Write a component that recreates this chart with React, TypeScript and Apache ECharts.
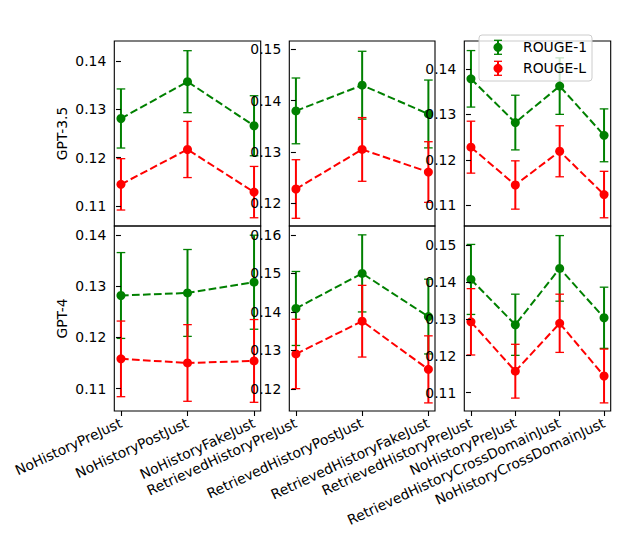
import React, { useEffect, useRef } from "react";
import * as echarts from "echarts";

// ---- data ----
const catsNoHistory = ["NoHistoryPreJust", "NoHistoryPostJust", "NoHistoryFakeJust"];
const catsRetrieved = ["RetrievedHistoryPreJust", "RetrievedHistoryPostJust", "RetrievedHistoryFakeJust"];
const catsCross = ["RetrievedHistoryPreJust", "NoHistoryPreJust", "RetrievedHistoryCrossDomainJust", "NoHistoryCrossDomainJust"];

// GPT-3.5
const g35_c1_r1 = [0.1281, 0.1357, 0.1266];
const g35_c1_r1_err = [0.0061, 0.0064, 0.0062];
const g35_c1_rl = [0.1145, 0.1217, 0.1129];
const g35_c1_rl_err = [0.0053, 0.0058, 0.0053];
const g35_c2_r1 = [0.138, 0.143, 0.1374];
const g35_c2_r1_err = [0.0064, 0.0066, 0.0066];
const g35_c2_rl = [0.1228, 0.1305, 0.1261];
const g35_c2_rl_err = [0.0057, 0.0062, 0.0059];
const g35_c3_r1 = [0.1378, 0.1282, 0.1362, 0.1254];
const g35_c3_r1_err = [0.0062, 0.006, 0.0062, 0.0058];
const g35_c3_rl = [0.1228, 0.1145, 0.1219, 0.1124];
const g35_c3_rl_err = [0.0057, 0.0053, 0.0056, 0.0051];

// GPT-4
const g4_c1_r1 = [0.1282, 0.1287, 0.1308];
const g4_c1_r1_err = [0.0084, 0.0085, 0.0092];
const g4_c1_rl = [0.1158, 0.115, 0.1154];
const g4_c1_rl_err = [0.0074, 0.0075, 0.0081];
const g4_c2_r1 = [0.1409, 0.15, 0.1388];
const g4_c2_r1_err = [0.0096, 0.01, 0.0097];
const g4_c2_rl = [0.1291, 0.1376, 0.1251];
const g4_c2_rl_err = [0.009, 0.0093, 0.0087];
const g4_c3_r1 = [0.1407, 0.1284, 0.1437, 0.1303];
const g4_c3_r1_err = [0.0095, 0.0083, 0.0089, 0.0083];
const g4_c3_rl = [0.1292, 0.1158, 0.1288, 0.1145];
const g4_c3_rl_err = [0.009, 0.0073, 0.0079, 0.0073];

// y tick labels per panel
const ticksR1C1 = [0.11, 0.12, 0.13, 0.14];
const ticksR1C2 = [0.12, 0.13, 0.14, 0.15];
const ticksR1C3 = [0.11, 0.12, 0.13, 0.14];
const ticksR2C1 = [0.11, 0.12, 0.13, 0.14];
const ticksR2C2 = [0.12, 0.13, 0.14, 0.15, 0.16];
const ticksR2C3 = [0.11, 0.12, 0.13, 0.14, 0.15];

const rowNames = ["GPT-3.5", "GPT-4"];
const seriesNames = ["ROUGE-1", "ROUGE-L"];

const GREEN = "#008000";
const RED = "#ff0000";
const FONT = "DejaVu Sans";
const FS = 13.9;

export default function App() {
  const ref = useRef<HTMLDivElement>(null);

  useEffect(() => {
    if (!ref.current) return;
    const chart = echarts.init(ref.current, null, { renderer: "svg" });

    const colLeft = [114.3, 289.3, 464.3];
    const colWidth = [146.4, 145.7, 146.4];
    const rowTop = [41, 226];
    const rowHeight = 185;

    const colCats = [catsNoHistory, catsRetrieved, catsCross];
    const panels = [
      { row: 0, col: 0, r1: g35_c1_r1, r1e: g35_c1_r1_err, rl: g35_c1_rl, rle: g35_c1_rl_err, ticks: ticksR1C1, min: 0.1059, max: 0.1441 },
      { row: 0, col: 1, r1: g35_c2_r1, r1e: g35_c2_r1_err, rl: g35_c2_rl, rle: g35_c2_rl_err, ticks: ticksR1C2, min: 0.1156, max: 0.1516 },
      { row: 0, col: 2, r1: g35_c3_r1, r1e: g35_c3_r1_err, rl: g35_c3_rl, rle: g35_c3_rl_err, ticks: ticksR1C3, min: 0.1055, max: 0.1461 },
      { row: 1, col: 0, r1: g4_c1_r1, r1e: g4_c1_r1_err, rl: g4_c1_rl, rle: g4_c1_rl_err, ticks: ticksR2C1, min: 0.1056, max: 0.1418 },
      { row: 1, col: 1, r1: g4_c2_r1, r1e: g4_c2_r1_err, rl: g4_c2_rl, rle: g4_c2_rl_err, ticks: ticksR2C2, min: 0.1143, max: 0.1623 },
      { row: 1, col: 2, r1: g4_c3_r1, r1e: g4_c3_r1_err, rl: g4_c3_rl, rle: g4_c3_rl_err, ticks: ticksR2C3, min: 0.105, max: 0.1552 },
    ];

    const grids: any[] = [];
    const xAxes: any[] = [];
    const yAxes: any[] = [];
    const series: any[] = [];

    const errRender = (color: string) => (params: any, api: any) => {
      const x = api.value(0);
      const y = api.value(1);
      const e = api.value(2);
      const top = api.coord([x, y + e]);
      const bot = api.coord([x, y - e]);
      const cw = 4.3;
      return {
        type: "group",
        children: [
          { type: "line", shape: { x1: top[0], y1: top[1], x2: bot[0], y2: bot[1] }, style: { stroke: color, lineWidth: 2 } },
          { type: "line", shape: { x1: top[0] - cw, y1: top[1], x2: top[0] + cw, y2: top[1] }, style: { stroke: color, lineWidth: 1.3 } },
          { type: "line", shape: { x1: bot[0] - cw, y1: bot[1], x2: bot[0] + cw, y2: bot[1] }, style: { stroke: color, lineWidth: 1.3 } },
        ],
      };
    };

    panels.forEach((p, i) => {
      const cats = colCats[p.col];
      const n = cats.length;
      const pad = (n - 1) * 0.05;
      grids.push({
        left: colLeft[p.col],
        top: rowTop[p.row],
        width: colWidth[p.col],
        height: rowHeight,
        show: true,
        borderColor: "#000",
        borderWidth: 1.1,
        backgroundColor: "transparent",
      });
      const idx = cats.map((_, k) => k);
      xAxes.push({
        type: "value",
        gridIndex: i,
        min: -pad,
        max: n - 1 + pad,
        splitLine: { show: false },
        axisLine: { show: false },
        axisTick: {
          show: p.row === 1,
          customValues: idx,
          length: 5,
          lineStyle: { color: "#000", width: 1.1 },
        },
        axisLabel: {
          show: p.row === 1,
          customValues: idx,
          rotate: 25,
          margin: 11,
          fontSize: FS,
          fontFamily: FONT,
          color: "#000",
          formatter: (v: number) => cats[Math.round(v)] ?? "",
        },
        z: 6,
      });
      yAxes.push({
        type: "value",
        gridIndex: i,
        min: p.min,
        max: p.max,
        splitLine: { show: false },
        axisLine: { show: false },
        axisTick: {
          show: true,
          customValues: p.ticks,
          length: 5,
          lineStyle: { color: "#000", width: 1.1 },
        },
        axisLabel: {
          customValues: p.ticks,
          margin: 8,
          fontSize: FS,
          fontFamily: FONT,
          color: "#000",
          formatter: (v: number) => v.toFixed(2),
        },
        name: p.col === 0 ? rowNames[p.row] : "",
        nameLocation: "middle",
        nameGap: 45,
        nameTextStyle: { fontSize: FS, fontFamily: FONT, color: "#000" },
        z: 6 + p.col,
      });
      const mk = (vals: number[]) => vals.map((v, k) => [k, v]);
      const mkErr = (vals: number[], errs: number[]) => vals.map((v, k) => [k, v, errs[k]]);
      [
        { name: seriesNames[0], vals: p.r1, errs: p.r1e, color: GREEN, z: 2 },
        { name: seriesNames[1], vals: p.rl, errs: p.rle, color: RED, z: 4 },
      ].forEach((s) => {
        series.push({
          type: "custom",
          name: s.name + "-err",
          xAxisIndex: i,
          yAxisIndex: i,
          data: mkErr(s.vals, s.errs),
          encode: { x: 0, y: 1 },
          renderItem: errRender(s.color),
          clip: true,
          silent: true,
          z: s.z,
        });
        series.push({
          type: "line",
          name: s.name,
          xAxisIndex: i,
          yAxisIndex: i,
          data: mk(s.vals),
          symbol: "circle",
          symbolSize: 9,
          showSymbol: true,
          itemStyle: { color: s.color },
          lineStyle: { color: s.color, width: 2, type: [7.7, 3.3] },
          clip: true,
          silent: true,
          z: s.z + 1,
        });
      });
    });

    // legend drawn with graphic
    const lx = 479, ly = 35, lw = 113, lh = 46;
    const Z = 100;
    const legendItem = (cy: number, color: string, label: string) => [
      { type: "line", z: Z + 1, shape: { x1: 498, y1: cy - 7, x2: 498, y2: cy + 7 }, style: { stroke: color, lineWidth: 2 } },
      { type: "line", z: Z + 1, shape: { x1: 494, y1: cy - 7, x2: 502, y2: cy - 7 }, style: { stroke: color, lineWidth: 1.3 } },
      { type: "line", z: Z + 1, shape: { x1: 494, y1: cy + 7, x2: 502, y2: cy + 7 }, style: { stroke: color, lineWidth: 1.3 } },
      { type: "circle", z: Z + 2, shape: { cx: 498, cy, r: 4.5 }, style: { fill: color } },
      {
        type: "text",
        z: Z + 2,
        x: 523,
        y: cy,
        style: { text: label, fontSize: FS, fontFamily: FONT, fill: "#000", verticalAlign: "middle", align: "left" },
      },
    ];

    chart.setOption({
      animation: false,
      backgroundColor: "#fff",
      grid: grids,
      xAxis: xAxes,
      yAxis: yAxes,
      series,
      graphic: [
        {
          type: "rect",
          z: Z,
          shape: { x: lx, y: ly, width: lw, height: lh, r: 3 },
          style: { fill: "rgba(255,255,255,0.8)", stroke: "#cccccc", lineWidth: 1 },
        },
        ...legendItem(47.3, GREEN, seriesNames[0]),
        ...legendItem(68.3, RED, seriesNames[1]),
      ],
    });

    return () => chart.dispose();
  }, []);

  return (
    <div
      ref={ref}
      style={{ position: "absolute", left: 0, top: 0, width: 638, height: 542, background: "#fff" }}
    />
  );
}
